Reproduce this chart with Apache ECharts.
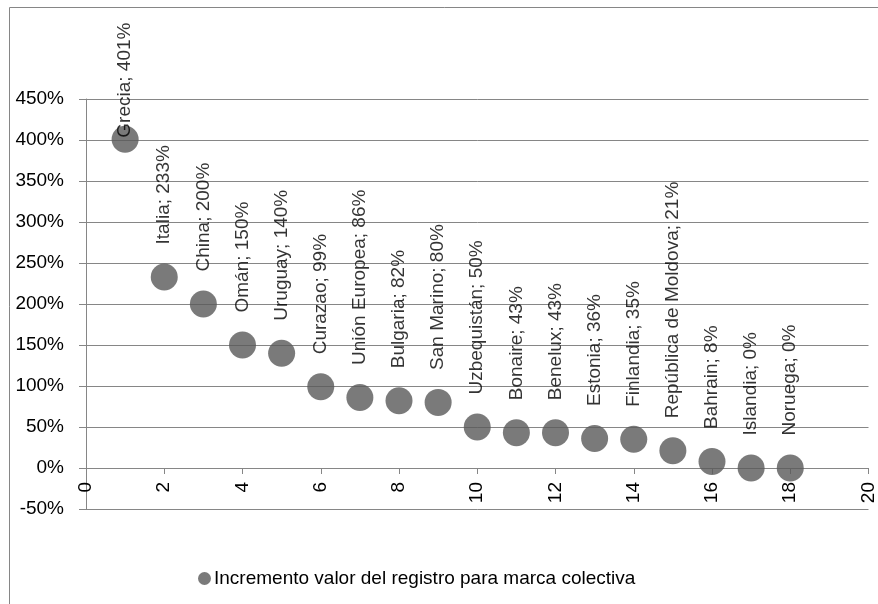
<!DOCTYPE html>
<html>
<head>
<meta charset="utf-8">
<script src="https://cdn.jsdelivr.net/npm/echarts@6/dist/echarts.min.js"></script>
<style>
  body { margin: 0; background: #fff; }
  #chart { width: 878px; height: 604px; }
</style>
</head>
<body>
<div id="chart"></div>
<script>
var paises = ['Grecia', 'Italia', 'China', 'Omán', 'Uruguay', 'Curazao', 'Unión Europea', 'Bulgaria', 'San Marino',
  'Uzbequistán', 'Bonaire', 'Benelux', 'Estonia', 'Finlandia', 'República de Moldova', 'Bahrain', 'Islandia', 'Noruega'];
var posiciones = [1, 2, 3, 4, 5, 6, 7, 8, 9, 10, 11, 12, 13, 14, 15, 16, 17, 18];
var incrementos = [401, 233, 200, 150, 140, 99, 86, 82, 80, 50, 43, 43, 36, 35, 21, 8, 0, 0];
var serieNombre = 'Incremento valor del registro para marca colectiva';

var yMin = -50, yMax = 450, yPaso = 50;
var fuente = '"Liberation Sans", Arial, sans-serif';
var gris = '#868686';

var datos = paises.map(function (p, i) {
  var item = { name: p, value: [posiciones[i], incrementos[i]] };
  // the top label gets pushed down onto its marker, like in the original
  if (i === 0) item.label = { distance: -12 };
  return item;
});

var chart = echarts.init(document.getElementById('chart'));
var option = {
  animation: false,
  textStyle: { fontFamily: fuente },
  graphic: [{
    type: 'rect',
    shape: { x: 9.5, y: 7.5, width: 900, height: 700 },
    style: { fill: 'none', stroke: gris, lineWidth: 1 },
    z: -1
  }],
  grid: { left: 86, right: 4, top: 99, bottom: 95 },
  legend: {
    data: [serieNombre],
    left: 193,
    top: 564,
    icon: 'circle',
    itemWidth: 13,
    itemHeight: 13,
    itemGap: 4,
    textStyle: { fontSize: 19, color: '#000', fontFamily: fuente, padding: [0, 0, 0, -2] }
  },
  xAxis: {
    type: 'value',
    min: 0,
    max: 20,
    interval: 2,
    position: 'bottom',
    axisLine: { onZero: false, lineStyle: { color: gris } },
    axisTick: { show: true, length: 6, lineStyle: { color: gris } },
    splitLine: { show: false },
    axisLabel: { rotate: 90, margin: 14, fontSize: 19, color: '#000', fontFamily: fuente }
  },
  yAxis: {
    type: 'value',
    min: yMin,
    max: yMax,
    interval: yPaso,
    axisLine: { show: true, lineStyle: { color: gris } },
    axisTick: { show: true, length: 7, lineStyle: { color: gris } },
    splitLine: { show: true, lineStyle: { color: gris } },
    axisLabel: { formatter: '{value}%', margin: 22, fontSize: 19, color: '#000', fontFamily: fuente }
  },
  series: [{
    name: serieNombre,
    type: 'scatter',
    symbolSize: 27,
    itemStyle: { color: '#595959' },
    label: {
      show: true,
      position: 'top',
      distance: 19,
      rotate: 90,
      align: 'left',
      verticalAlign: 'middle',
      fontSize: 19,
      color: '#000',
      fontFamily: fuente,
      formatter: function (p) { return p.name + '; ' + p.value[1] + '%'; }
    },
    data: datos
  }]
};
chart.setOption(option);

// onZero does not take here, so lift the x axis up to the 0% line by hand
var yCero = chart.convertToPixel({ yAxisIndex: 0 }, 0);
var yBase = chart.convertToPixel({ yAxisIndex: 0 }, yMin);
chart.setOption({ xAxis: { offset: -(yBase - yCero) } });
</script>
</body>
</html>
